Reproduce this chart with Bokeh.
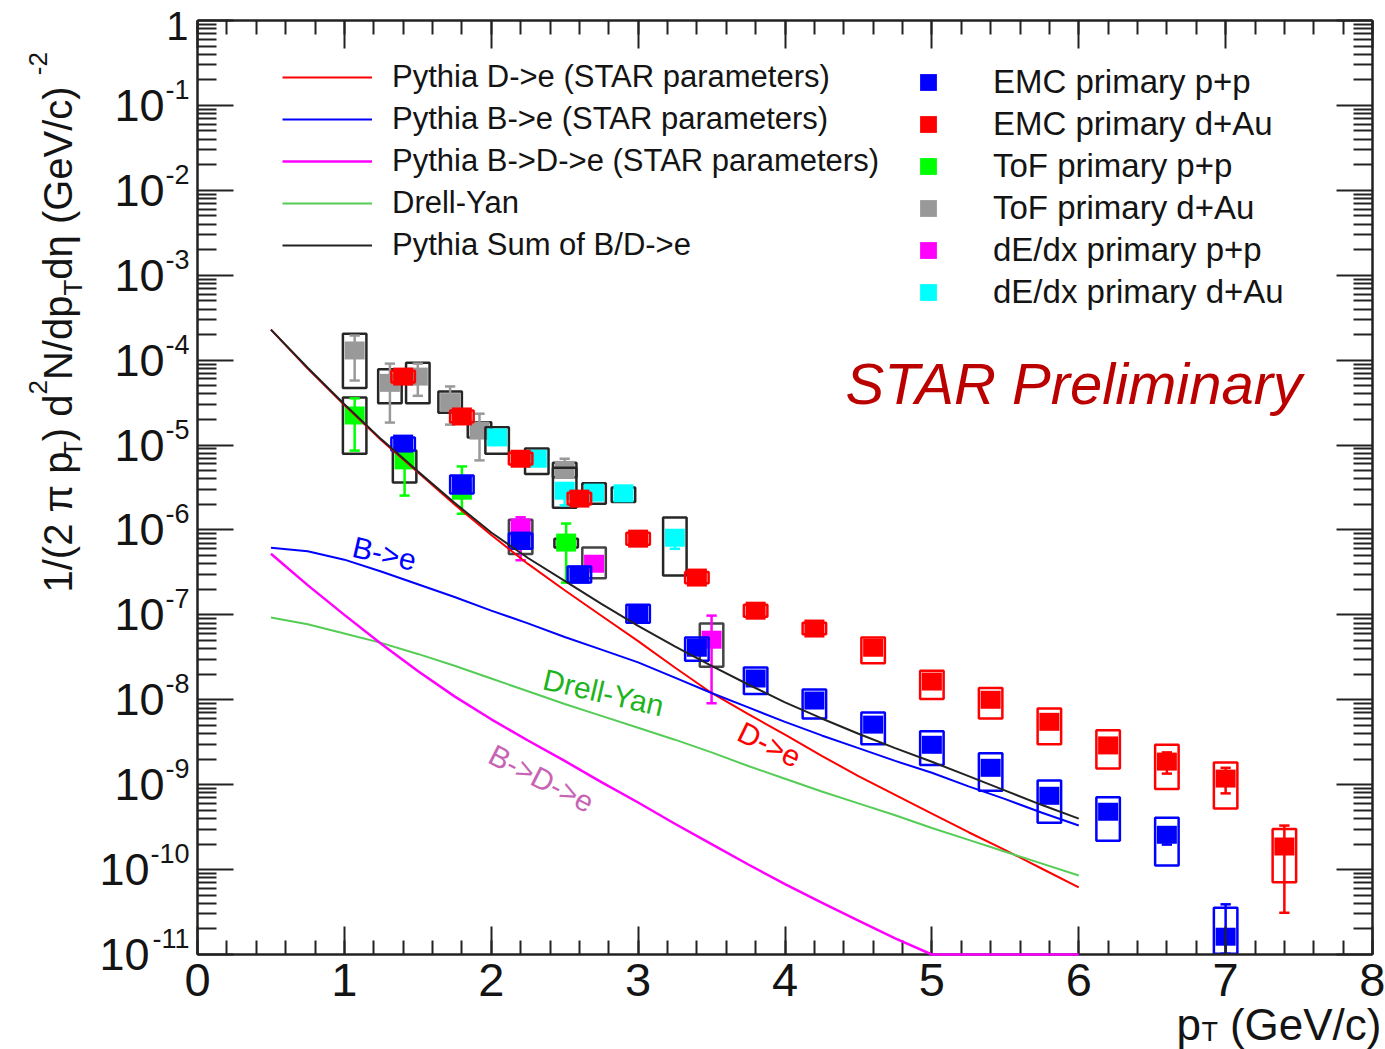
import numpy as np
from bokeh.plotting import figure
from bokeh.models import (Range1d, FixedTicker, SingleIntervalTicker, LinearAxis, LogAxis,
                          Label, Legend, LegendItem, CustomJSTickFormatter)
from bokeh.embed import file_html
from bokeh.resources import INLINE

nan = float("nan")

# ---------------- data ----------------
curve_pt = [0.5, 0.75, 1.0, 1.25, 1.5, 1.75, 2.0, 2.25, 2.5, 2.75, 3.0, 3.25,
            3.5, 3.75, 4.0, 4.25, 4.5, 4.75, 5.0, 5.25, 5.5, 5.75, 6.0]
# curves given as log10 of the yield
pythia_d_e_log = [-3.64, -4.10, -4.53, -4.94, -5.32, -5.70, -6.06, -6.40, -6.71, -7.01, -7.31, -7.62,
                  -7.92, -8.17, -8.41, -8.66, -8.90, -9.12, -9.34, -9.56, -9.77, -9.99, -10.21]
pythia_b_e_log = [-6.21, -6.25, -6.35, -6.49, -6.64, -6.79, -6.95, -7.10, -7.26, -7.41, -7.56, -7.74,
                  -7.92, -8.09, -8.26, -8.42, -8.57, -8.72, -8.86, -9.02, -9.17, -9.33, -9.48]
pythia_b_d_e_log = [-6.28, -6.65, -7.00, -7.34, -7.66, -7.96, -8.23, -8.48, -8.72, -8.97, -9.21, -9.46,
                    -9.70, -9.94, -10.17, -10.39, -10.60, -10.81, -11.0, -11.0, -11.0, -11.0, -11.0]
drell_yan_log = [-7.03, -7.11, -7.22, -7.33, -7.46, -7.60, -7.75, -7.90, -8.05, -8.19, -8.33, -8.47,
                 -8.62, -8.78, -8.93, -9.08, -9.22, -9.36, -9.51, -9.65, -9.79, -9.93, -10.07]
pythia_sum_log = [-3.64, -4.09, -4.52, -4.93, -5.31, -5.68, -6.03, -6.33, -6.60, -6.87, -7.13, -7.37,
                  -7.60, -7.82, -8.03, -8.22, -8.40, -8.57, -8.73, -8.90, -9.07, -9.24, -9.40]

# EMC primary p+p
emc_pp_pt = [1.4, 1.8, 2.2, 2.6, 3.0, 3.4, 3.8, 4.2, 4.6, 5.0, 5.4, 5.8, 6.2, 6.6, 7.0]
emc_pp_y = [1.04e-5, 3.43e-6, 7.5e-7, 2.98e-7, 1.04e-7, 4.1e-8, 1.78e-8, 9.8e-9, 5.1e-9, 2.95e-9, 1.58e-9, 7.4e-10, 4.8e-10, 2.57e-10, 1.62e-11]
emc_pp_sys_hi = [1.23e-5, 4.37e-6, 9.1e-7, 3.7e-7, 1.32e-7, 5.4e-8, 2.4e-8, 1.32e-8, 7.1e-9, 4.27e-9, 2.34e-9, 1.12e-9, 7.1e-10, 4.07e-10, 3.55e-11]
emc_pp_sys_lo = [8.6e-6, 2.69e-6, 6.0e-7, 2.4e-7, 8.1e-8, 2.88e-8, 1.17e-8, 6.0e-9, 3.0e-9, 1.7e-9, 8.5e-10, 3.55e-10, 2.19e-10, 1.12e-10, 1.02e-11]
emc_pp_err_hi = [nan] * 13 + [2.57e-10, 3.9e-11]
emc_pp_err_lo = [nan] * 13 + [1.97e-10, 1.02e-11]

# EMC primary d+Au
emc_dau_pt = [1.4, 1.8, 2.2, 2.6, 3.0, 3.4, 3.8, 4.2, 4.6, 5.0, 5.4, 5.8, 6.2, 6.6, 7.0, 7.4]
emc_dau_y = [6.4e-5, 2.17e-5, 6.9e-6, 2.34e-6, 7.9e-7, 2.75e-7, 1.12e-7, 6.9e-8, 4.1e-8, 1.64e-8, 1.0e-8, 5.5e-9, 2.9e-9, 1.87e-9, 1.18e-9, 1.87e-10]
emc_dau_sys_hi = [7.5e-5, 2.55e-5, 8.1e-6, 2.75e-6, 9.3e-7, 3.2e-7, 1.32e-7, 8.1e-8, 5.4e-8, 2.19e-8, 1.38e-8, 7.9e-9, 4.37e-9, 2.95e-9, 1.82e-9, 3.0e-10]
emc_dau_sys_lo = [5.45e-5, 1.85e-5, 5.9e-6, 2.0e-6, 6.7e-7, 2.35e-7, 9.5e-8, 5.9e-8, 2.7e-8, 1.02e-8, 6.0e-9, 3.0e-9, 1.55e-9, 8.9e-10, 5.25e-10, 7.1e-11]
emc_dau_err_hi = [nan] * 13 + [2.4e-9, 1.58e-9, 3.3e-10]
emc_dau_err_lo = [nan] * 13 + [1.35e-9, 7.9e-10, 3.1e-11]

# ToF primary p+p
tof_pp_pt = [1.07, 1.41, 1.8, 2.51]
tof_pp_y = [2.23e-5, 6.6e-6, 2.9e-6, 7.1e-7]
tof_pp_sys_hi = [3.63e-5, 8.6e-6, nan, 7.9e-7]
tof_pp_sys_lo = [7.9e-6, 3.63e-6, nan, 6.2e-7]
tof_pp_err_hi = [3.55e-5, 1.23e-5, 5.6e-6, 1.19e-6]
tof_pp_err_lo = [8.6e-6, 2.54e-6, 1.55e-6, 2.4e-7]

# ToF primary d+Au
tof_dau_pt = [1.07, 1.31, 1.5, 1.72, 1.92, 2.5]
tof_dau_y = [1.3e-4, 5.4e-5, 6.4e-5, 3.2e-5, 1.48e-5, 5.1e-6]
tof_dau_sys_hi = [2.04e-4, 7.8e-5, 9.3e-5, 4.27e-5, 1.86e-5, 6.2e-6]
tof_dau_sys_lo = [4.7e-5, 3.1e-5, 3.1e-5, 2.4e-5, 1.23e-5, 4.17e-6]
tof_dau_err_hi = [1.95e-4, 9.1e-5, 9.1e-5, 4.9e-5, 2.34e-5, 6.9e-6]
tof_dau_err_lo = [5.75e-5, 1.84e-5, 3.8e-5, 1.74e-5, 6.6e-6, 4.17e-6]

# dE/dx primary p+p
dedx_pp_pt = [2.2, 2.7, 3.5]
dedx_pp_y = [1.07e-6, 4.0e-7, 5.1e-8]
dedx_pp_sys_hi = [1.32e-6, 6.2e-7, 7.9e-8]
dedx_pp_sys_lo = [5.2e-7, 2.7e-7, 2.45e-8]
dedx_pp_err_hi = [1.41e-6, nan, 9.8e-8]
dedx_pp_err_lo = [4.4e-7, nan, 9.1e-9]

# dE/dx primary d+Au
dedx_dau_pt = [2.04, 2.31, 2.5, 2.7, 2.9, 3.25]
dedx_dau_y = [1.23e-5, 6.9e-6, 2.9e-6, 2.75e-6, 2.7e-6, 8.1e-7]
dedx_dau_sys_hi = [1.62e-5, 9.1e-6, 5.4e-6, 3.55e-6, 3.16e-6, 1.4e-6]
dedx_dau_sys_lo = [7.9e-6, 4.57e-6, 1.82e-6, 2.04e-6, 2.14e-6, 2.9e-7]
dedx_dau_err_hi = [nan, nan, 2.9e-6, nan, nan, 9.8e-7]
dedx_dau_err_lo = [nan, nan, 1.95e-6, nan, nan, 6.0e-7]

x_tick_labels = ["0", "1", "2", "3", "4", "5", "6", "7", "8"]
y_tick_vals = [1.0, 1e-1, 1e-2, 1e-3, 1e-4, 1e-5, 1e-6, 1e-7, 1e-8, 1e-9, 1e-10, 1e-11]
y_tick_exps = ["", "-1", "-2", "-3", "-4", "-5", "-6", "-7", "-8", "-9", "-10", "-11"]

X_MIN, X_MAX = 0.0, 8.0
Y_MIN, Y_MAX = 1e-11, 1.0

# ---------------- layout helpers (pixel placement of the axes box) ----------------
W, H = 1385, 1049
FL, FR, FT, FB = 197, 1372, 20, 954
FONT = "Liberation Sans"
TXT = "#141414"


def px2x(px):
    return X_MIN + (px - FL) / (FR - FL) * (X_MAX - X_MIN)


def py2y(py):
    lo, hi = np.log10(Y_MIN), np.log10(Y_MAX)
    return 10 ** (hi - (py - FT) / (FB - FT) * (hi - lo))


def y2py(v):
    lo, hi = np.log10(Y_MIN), np.log10(Y_MAX)
    return FT + (hi - np.log10(v)) / (hi - lo) * (FB - FT)


p = figure(width=W, height=H, x_range=Range1d(px2x(0), px2x(W)),
           y_range=Range1d(py2y(H), py2y(0)), y_axis_type="log",
           output_backend="svg", toolbar_location=None, min_border=0)
p.grid.visible = False
p.outline_line_color = None
p.background_fill_color = "white"
p.border_fill_color = "white"

empty = CustomJSTickFormatter(code="return '';")
xt = SingleIntervalTicker(interval=1, num_minor_ticks=5)
y_minor = [k * 10.0 ** e for e in range(-11, 0) for k in range(2, 10)]
yt = FixedTicker(ticks=y_tick_vals, minor_ticks=y_minor)

xa = p.xaxis[0]
xa.ticker = xt
xa.fixed_location = Y_MIN
xa.bounds = (X_MIN, X_MAX)
xa.major_label_overrides = {i: s for i, s in enumerate(x_tick_labels)}
xa.major_label_text_font = FONT
xa.major_label_text_font_size = "47px"
xa.major_label_text_color = TXT
xa.major_label_standoff = 9
ya = p.yaxis[0]
ya.ticker = yt
ya.fixed_location = X_MIN
ya.bounds = (Y_MIN, Y_MAX)
ya.formatter = empty
ya.major_label_text_font_size = "1px"

top = LinearAxis(ticker=xt, formatter=empty, major_label_text_font_size="1px",
                 fixed_location=Y_MAX, bounds=(X_MIN, X_MAX))
right = LogAxis(ticker=yt, formatter=empty, major_label_text_font_size="1px",
                fixed_location=X_MAX, bounds=(Y_MIN, Y_MAX))
p.add_layout(top, "above")
p.add_layout(right, "right")
for ax in (xa, top):
    ax.major_tick_in, ax.major_tick_out = 28, 0
    ax.minor_tick_in, ax.minor_tick_out = 14, 0
for ax in (ya, right):
    ax.major_tick_in, ax.major_tick_out = 36, 0
    ax.minor_tick_in, ax.minor_tick_out = 19, 0
for ax in (xa, ya, top, right):
    ax.axis_line_width = 2.5
    ax.axis_line_color = "#222222"
    ax.major_tick_line_width = 2
    ax.major_tick_line_color = "#222222"
    ax.minor_tick_line_width = 2
    ax.minor_tick_line_color = "#222222"

# ---------------- data points ----------------
HW = 0.08   # half width of systematic boxes (x units)
CW = 0.035  # half width of error-bar caps


def series(pt, y, slo, shi, elo, ehi, color, box_color):
    pt = np.array(pt)
    p.quad(left=pt - HW, right=pt + HW, bottom=np.array(slo), top=np.array(shi),
           fill_alpha=0, line_color=box_color, line_width=2.5)
    elo = np.array(elo)
    ehi = np.array(ehi)
    p.segment(x0=pt, y0=elo, x1=pt, y1=ehi, line_color=color, line_width=2.5)
    p.segment(x0=pt - CW, y0=elo, x1=pt + CW, y1=elo, line_color=color, line_width=2.5)
    p.segment(x0=pt - CW, y0=ehi, x1=pt + CW, y1=ehi, line_color=color, line_width=2.5)
    p.rect(x=pt, y=np.array(y), width=20, height=18, width_units="screen",
           height_units="screen", fill_color=color, line_color=None)


BOX = "#262626"
series(tof_dau_pt, tof_dau_y, tof_dau_sys_lo, tof_dau_sys_hi, tof_dau_err_lo, tof_dau_err_hi, "#999999", BOX)
series(tof_pp_pt, tof_pp_y, tof_pp_sys_lo, tof_pp_sys_hi, tof_pp_err_lo, tof_pp_err_hi, "#00ff00", BOX)
series(dedx_pp_pt, dedx_pp_y, dedx_pp_sys_lo, dedx_pp_sys_hi, dedx_pp_err_lo, dedx_pp_err_hi, "#ff00ff", "#444444")
series(dedx_dau_pt, dedx_dau_y, dedx_dau_sys_lo, dedx_dau_sys_hi, dedx_dau_err_lo, dedx_dau_err_hi, "#00ffff", BOX)
series(emc_pp_pt, emc_pp_y, emc_pp_sys_lo, emc_pp_sys_hi, emc_pp_err_lo, emc_pp_err_hi, "#0000ff", "#0000ff")
series(emc_dau_pt, emc_dau_y, emc_dau_sys_lo, emc_dau_sys_hi, emc_dau_err_lo, emc_dau_err_hi, "#ff0000", "#ff0000")

# ---------------- curves ----------------
def lin(v):
    return 10 ** np.array(v)


r_d = p.line(curve_pt, lin(pythia_d_e_log), line_color="#ff0000", line_width=2)
r_b = p.line(curve_pt, lin(pythia_b_e_log), line_color="#0000ff", line_width=2)
r_bd = p.line(curve_pt, lin(pythia_b_d_e_log), line_color="#ff00ff", line_width=2.5, level="overlay")
r_dy = p.line(curve_pt, lin(drell_yan_log), line_color="#55cc55", line_width=2)
r_sum = p.line(curve_pt, lin(pythia_sum_log), line_color="#222222", line_width=2)

# ---------------- legends ----------------
leg_common = dict(orientation="vertical", glyph_height=42, label_height=42, spacing=0,
                  padding=0, margin=0, label_text_font=FONT,
                  label_text_color=TXT, border_line_alpha=0, background_fill_alpha=0)
left_leg = Legend(items=[
    LegendItem(label="Pythia D->e (STAR parameters)", renderers=[r_d]),
    LegendItem(label="Pythia B->e (STAR parameters)", renderers=[r_b]),
    LegendItem(label="Pythia B->D->e (STAR parameters)", renderers=[r_bd]),
    LegendItem(label="Drell-Yan", renderers=[r_dy]),
    LegendItem(label="Pythia Sum of B/D->e", renderers=[r_sum]),
], location=(282, H - (56 + 5 * 42)), glyph_width=90, label_standoff=20,
    label_text_font_size="31px", **leg_common)
p.add_layout(left_leg)

marker_items = []
for name, col in [("EMC primary p+p", "#0000ff"), ("EMC primary d+Au", "#ff0000"),
                  ("ToF primary p+p", "#00ff00"), ("ToF primary d+Au", "#999999"),
                  ("dE/dx primary p+p", "#ff00ff"), ("dE/dx primary d+Au", "#00ffff")]:
    r = p.scatter(x=[nan], y=[nan], marker="square", size=17, fill_color=col, line_color=None)
    marker_items.append(LegendItem(label=name, renderers=[r]))
right_leg = Legend(items=marker_items, location=(907, H - (61 + 6 * 42)),
                   glyph_width=42, label_standoff=44, label_text_font_size="33px", **leg_common)
p.add_layout(right_leg)


# ---------------- texts ----------------
def lab(text, px, py, size, color=TXT, align="left", angle=0, style="normal", baseline="middle"):
    p.add_layout(Label(x=px2x(px), y=py2y(py), text=text, text_font=FONT,
                       text_font_size=f"{size}px", text_color=color, text_align=align,
                       text_baseline=baseline, angle=angle, angle_units="deg",
                       text_font_style=style))


EM = {'-': .333, '/': .278, '(': .333, ')': .333, ' ': .278, 'T': .611, 'N': .722,
      'G': .778, 'V': .667, 'c': .5, 'π': .55}


def tw(s, size):
    return sum(EM.get(c, .556) for c in s) * size


# y tick labels
for v, e in zip(y_tick_vals, y_tick_exps):
    ty = y2py(v)
    if e == "":
        lab("1", 188, ty + 5, 40, align="right")
    else:
        lab(e, 189, ty - 16, 27, align="right")
        lab("10", 189 - tw(e, 27) - 1, ty, 45, align="right")

# x title
lab("p", 1176, 1024, 44)
lab("T", 1201, 1031, 27)
lab("(GeV/c)", 1381, 1024, 44, align="right")

# y title (rotated)
xc = {"main": 57, "sub": 72, "sup": 37}
cur = 592
for text, size, kind in [("1/(2 π p", 40, "main"), ("T", 26, "sub"), (") d", 40, "main"),
                         ("2", 26, "sup"), ("N/dp", 40, "main"), ("T", 26, "sub"),
                         (" dη (GeV/c)", 40, "main"), ("-2", 26, "sup")]:
    lab(text, xc[kind], cur, size, angle=90)
    cur -= tw(text, size)

# curve labels
lab("B->e", 384, 553, 30, color="#0000ff", align="center", angle=-13)
lab("Drell-Yan", 603, 692, 30, color="#1db31d", align="center", angle=-13)
lab("D->e", 769, 744, 30, color="#ff0000", align="center", angle=-26)
lab("B->D->e", 541, 778, 30, color="#c864b4", align="center", angle=-27)

# STAR Preliminary
lab("STAR Preliminary", 845, 383, 58, color="#bb0000", style="italic")

open("out.html", "w").write(file_html(p, INLINE))
